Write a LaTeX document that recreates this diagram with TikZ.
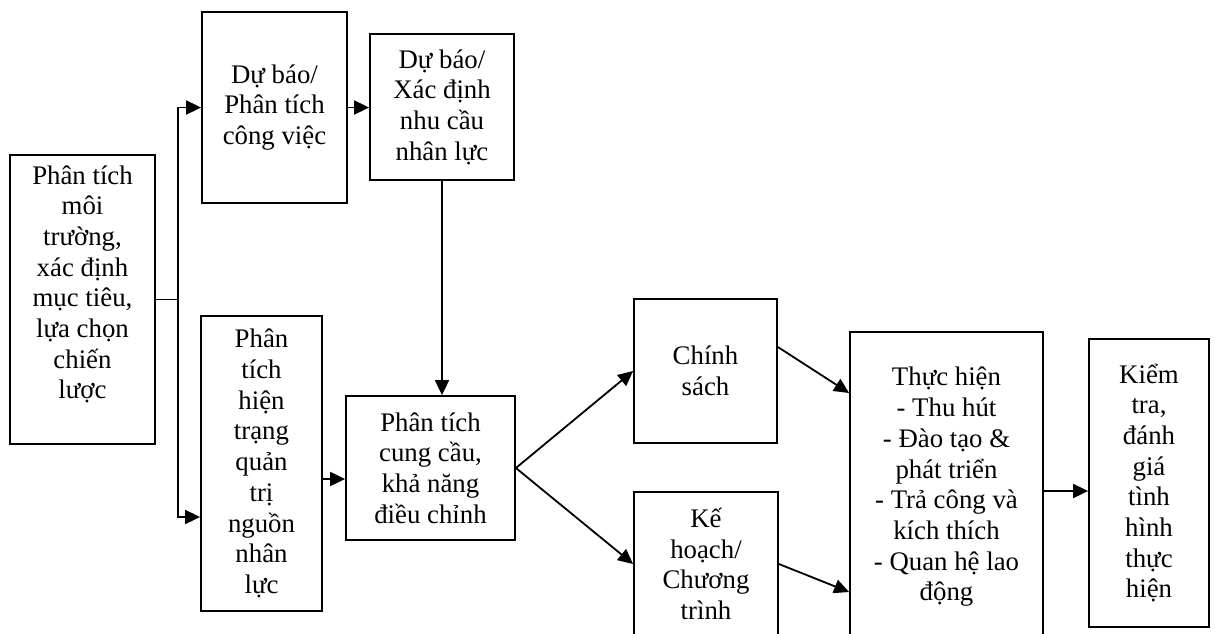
\documentclass[tikz,border=0pt]{standalone}
\usepackage{fontspec}
\setmainfont{Liberation Serif}
\usetikzlibrary{arrows.meta}
\tikzset{
  box/.style={draw, line width=1.8pt, inner sep=0pt, align=center,
    font=\fontsize{26.8}{30.7}\selectfont},
  arr/.style={line width=1.8pt, -{Triangle[length=15pt,width=14pt]}},
  ln/.style={line width=1.8pt},
}
\begin{document}
\begin{tikzpicture}[x=1pt,y=-1pt]
\useasboundingbox (0,0) rectangle (1215,633);
\clip (0,0) rectangle (1215,633);
\node[box, minimum width=145pt, minimum height=289pt] (b1) at (82.5,299.5)
  {Phân tích\\ môi\\ trường,\\ xác định\\ mục tiêu,\\ lựa chọn\\ chiến\\ lược\\[4pt]};
\node[box, minimum width=145pt, minimum height=191pt] (b2) at (274.5,107.5)
  {Dự báo/\\ Phân tích\\ công việc};
\node[box, minimum width=144pt, minimum height=146pt] (b3) at (442,107)
  {Dự báo/\\ Xác định\\ nhu cầu\\ nhân lực};
\node[box, minimum width=121pt, minimum height=295pt] (b4) at (261.5,463.5)
  {Phân\\ tích\\ hiện\\ trạng\\ quản\\ trị\\ nguồn\\ nhân\\ lực};
\node[box, minimum width=169pt, minimum height=144pt] (b5) at (430.5,468)
  {Phân tích\\ cung cầu,\\ khả năng\\ điều chỉnh};
\node[box, minimum width=143pt, minimum height=144pt] (b6) at (705.5,371)
  {Chính\\ sách};
\node[box, minimum width=144pt, minimum height=144pt] (b7) at (706,564)
  {Kế\\ hoạch/\\ Chương\\ trình};
\node[box, minimum width=193pt, minimum height=310pt] (b8) at (946.5,487)
  {Thực hiện\\ - Thu hút\\ - Đào tạo \&\\ phát triển\\ - Trả công và\\ kích thích\\ - Quan hệ lao\\ động};
\node[box, minimum width=120pt, minimum height=288pt] (b9) at (1149,483)
  {Kiểm\\ tra,\\ đánh\\ giá\\ tình\\ hình\\ thực\\ hiện};
% connectors
\coordinate (j) at (178,299.5);
\draw[ln] (b1.east) -- (j);
\draw[arr] (j) |- (b2.west);
\draw[arr] (j) |- ([yshift=-53.5pt]b4.west);
\draw[arr] (b2.east) -- (b2.east -| b3.west);
\draw[arr] (b3.south) -- (b3.south |- b5.north);
\draw[arr] ([yshift=-15.5pt]b4.east) -- ([yshift=-15.5pt]b4.east -| b5.west);
\draw[arr] (b5.east) -- (b6.west);
\draw[arr] (b5.east) -- (b7.west);
\draw[arr] ([yshift=24pt]b6.east) -- ([yshift=94pt]b8.west);
\draw[arr] (b7.east) -- ([yshift=-28pt]b8.west |- b7.east);
\draw[arr] ([yshift=-4pt]b8.east) -- ([yshift=-4pt]b8.east -| b9.west);
\end{tikzpicture}
\end{document}
